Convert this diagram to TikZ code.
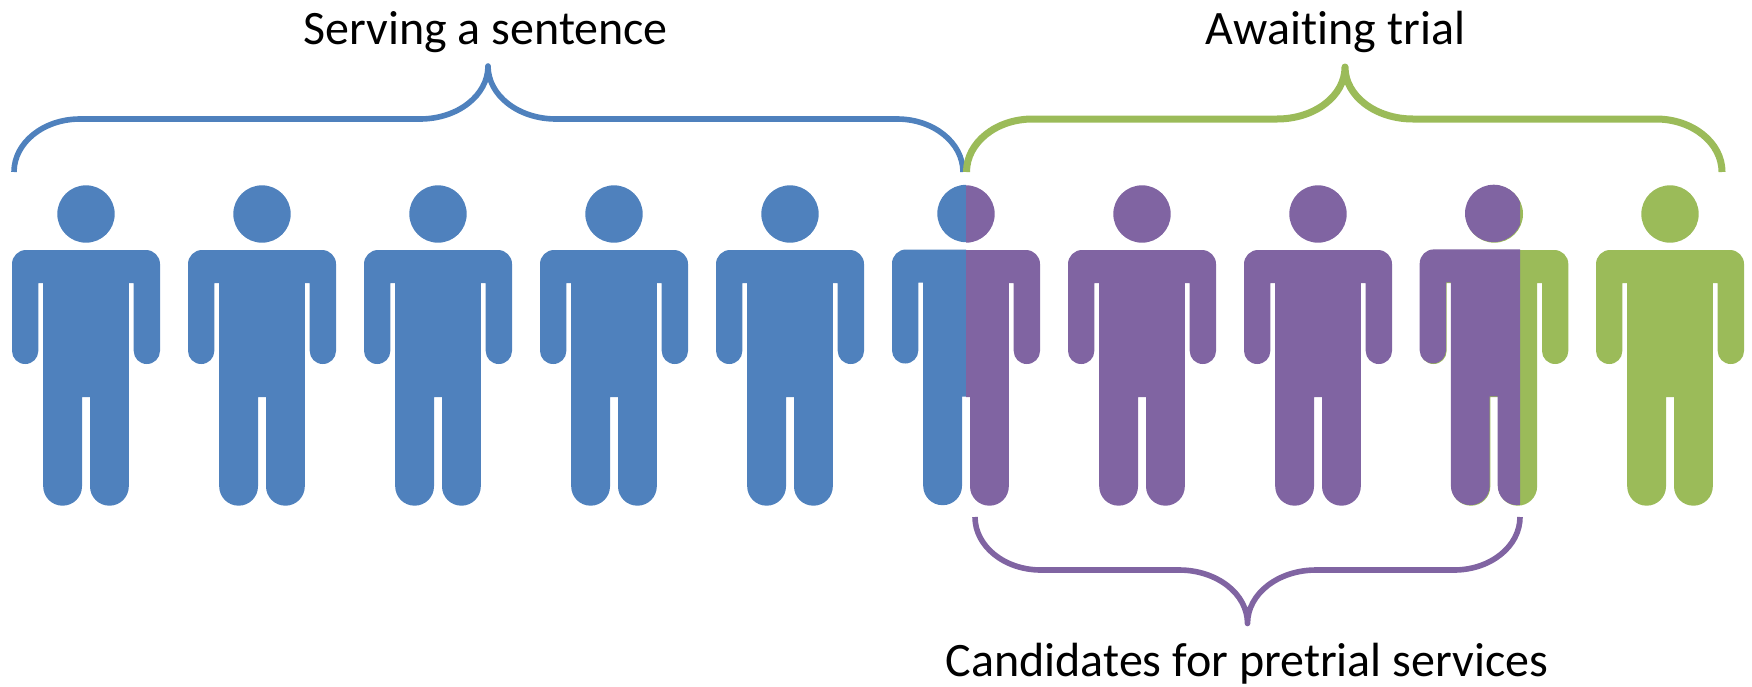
\documentclass[tikz,border=0pt]{standalone}
\usepackage{fontspec}
\setmainfont{Carlito}[Ligatures=NoCommon]
\definecolor{pblue}{HTML}{4F81BD}
\definecolor{pgreen}{HTML}{9BBB59}
\definecolor{ppurple}{HTML}{8064A2}
\newcommand{\personshape}{%
  (0,214) circle[radius=28.7]
  (-60,250) -- (60,250) .. controls (67.7,250) and (74,256.3) .. (74,264)
  -- (74,351) .. controls (74,358.2) and (68.1,364) .. (60.8,364)
  .. controls (53.5,364) and (47.7,358.2) .. (47.7,351)
  -- (47.7,283) -- (42.8,283)
  -- (42.8,486.4) .. controls (42.8,497) and (34.2,505.7) .. (23.4,505.7)
  .. controls (12.6,505.7) and (4,497) .. (4,486.4)
  -- (4,397) -- (-4,397)
  -- (-4,486.4) .. controls (-4,497) and (-12.6,505.7) .. (-23.4,505.7)
  .. controls (-34.2,505.7) and (-42.8,497) .. (-42.8,486.4)
  -- (-42.8,283) -- (-47.7,283)
  -- (-47.7,351) .. controls (-47.7,358.2) and (-53.5,364) .. (-60.8,364)
  .. controls (-68.1,364) and (-74,358.2) .. (-74,351)
  -- (-74,264) .. controls (-74,256.3) and (-67.7,250) .. (-60,250) -- cycle}
\tikzset{
  bracelbl/.style={anchor=base,inner sep=0pt,font=\fontsize{48}{48}\selectfont,text=black},
  brace/.style={line width=#1,line join=round,fill=none},
}
\begin{document}
\begin{tikzpicture}[x=1pt,y=-1pt]
\useasboundingbox (0,0) rectangle (1752,686);
\foreach \c in {86,262,438,614,790} \fill[pblue,shift={(\c,0)}] \personshape;
% person 6: blue / purple split
\begin{scope}
  \clip (892-5,150) rectangle (966,520);
  \fill[pblue,shift={(966,-0.5)}] \personshape;
\end{scope}
\begin{scope}
  \clip (966,150) rectangle (1045,520);
  \fill[ppurple,shift={(966,0)}] \personshape;
\end{scope}
\foreach \c in {1142,1318} \fill[ppurple,shift={(\c,0)}] \personshape;
% person 9: purple over green
\fill[pgreen,shift={(1494.3,0)}] \personshape;
\begin{scope}
  \clip (1410,150) rectangle (1520,520);
  \fill[ppurple,shift={(1493.7,-0.6)}] \personshape;
\end{scope}
\fill[pgreen,shift={(1670,0)}] \personshape;
% braces
\draw[brace=5.6pt,pblue] (14,172) .. controls (14,142.7) and (43.5,119) .. (80,119)
  -- (420,119) .. controls (457.5,119) and (488,95.5) .. (488,66)
  .. controls (488,95.5) and (518.5,119) .. (556,119)
  -- (897,119) .. controls (933.5,119) and (963,142.7) .. (963,172);
\draw[brace=7pt,pgreen] (966.5,172) .. controls (966.5,142.7) and (996,119) .. (1032.5,119)
  -- (1277,119) .. controls (1314.5,119) and (1345,96) .. (1345,67)
  .. controls (1345,96) and (1375.5,119) .. (1413,119)
  -- (1656,119) .. controls (1692.5,119) and (1722,142.7) .. (1722,172);
\draw[brace=5.6pt,ppurple] (975,517) .. controls (975,546.3) and (1004.5,570) .. (1041,570)
  -- (1179,570) .. controls (1216.5,570) and (1247.5,593.5) .. (1247.5,623.5)
  .. controls (1247.5,593.5) and (1278.5,570) .. (1316,570)
  -- (1454,570) .. controls (1490.5,570) and (1520,546.3) .. (1520,517);
% labels
\node[bracelbl] (serving) at (485.5,44) {Serving a sentence};
\node[bracelbl] (awaiting) at (1335.5,44) {Awaiting trial};
\node[bracelbl] (candidates) at (1247,676.5) {Candidates for pretrial services};
\end{tikzpicture}
\end{document}
